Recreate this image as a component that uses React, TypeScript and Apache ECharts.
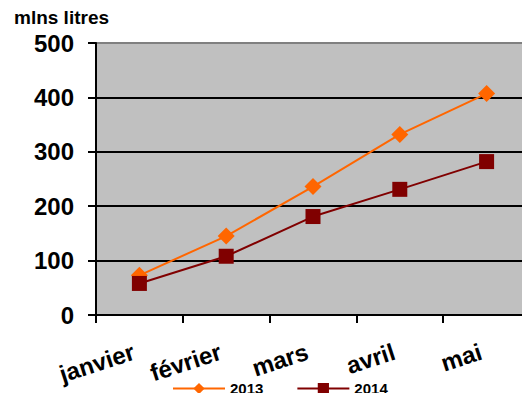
import React, { useEffect, useRef } from "react";
import * as echarts from "echarts";

const categories = ["janvier", "février", "mars", "avril", "mai"];
const series2013 = [73, 145, 236, 332, 407];
const series2014 = [58, 108, 181, 231, 282];
const yTicks = [0, 100, 200, 300, 400, 500];
const FONT = "'Liberation Sans', Arial, sans-serif";

export default function App() {
  const ref = useRef<HTMLDivElement>(null);
  useEffect(() => {
    if (!ref.current) return;
    const chart = echarts.init(ref.current, undefined, { renderer: "svg" });
    chart.setOption({
      animation: false,
      title: {
        text: "mlns litres",
        left: 9,
        top: 3,
        textStyle: { fontFamily: FONT, fontWeight: "bold", fontSize: 19, color: "#000" },
      },
      grid: {
        left: 96,
        right: -4,
        top: 43,
        bottom: 86,
        show: true,
        backgroundColor: "#C0C0C0",
        borderWidth: 0,
      },
      legend: {
        bottom: 0,
        left: 167,
        itemWidth: 52,
        itemHeight: 14,
        itemGap: 33,
        textStyle: { fontFamily: FONT, fontWeight: "bold", fontSize: 15, color: "#000" },
        data: ["2013", "2014"],
      },
      xAxis: {
        type: "category",
        data: categories,
        boundaryGap: true,
        axisLine: { show: true, lineStyle: { color: "#000", width: 2 } },
        axisTick: { show: true, interval: 0, length: 8, lineStyle: { color: "#000", width: 2 } },
        axisLabel: {
          interval: 0,
          rotate: 18,
          margin: 34,
          padding: [0, 6, 0, 0],
          fontFamily: FONT,
          fontWeight: "bold",
          fontSize: 24,
          color: "#000",
        },
        splitLine: { show: false },
      },
      yAxis: {
        type: "value",
        min: yTicks[0],
        max: yTicks[yTicks.length - 1],
        interval: 100,
        axisLine: { show: true, lineStyle: { color: "#000", width: 2 } },
        axisTick: { show: true, length: 8, lineStyle: { color: "#000", width: 2 } },
        axisLabel: {
          margin: 22,
          fontFamily: FONT,
          fontWeight: "bold",
          fontSize: 24,
          color: "#000",
        },
        splitLine: {
          show: true,
          lineStyle: {
            color: ["#000", "#000", "#000", "#000", "#000", "#808080"],
            width: 2,
          },
        },
      },
      series: [
        {
          name: "2013",
          type: "line",
          data: series2013,
          symbol: "diamond",
          symbolSize: 17,
          itemStyle: { color: "#FF6600" },
          lineStyle: { color: "#FF6600", width: 2 },
        },
        {
          name: "2014",
          type: "line",
          data: series2014,
          symbol: "rect",
          symbolSize: 15,
          itemStyle: { color: "#800000" },
          lineStyle: { color: "#800000", width: 2 },
        },
      ],
    });
    return () => chart.dispose();
  }, []);
  return <div ref={ref} style={{ width: 530, height: 401, margin: -8 }} />;
}
